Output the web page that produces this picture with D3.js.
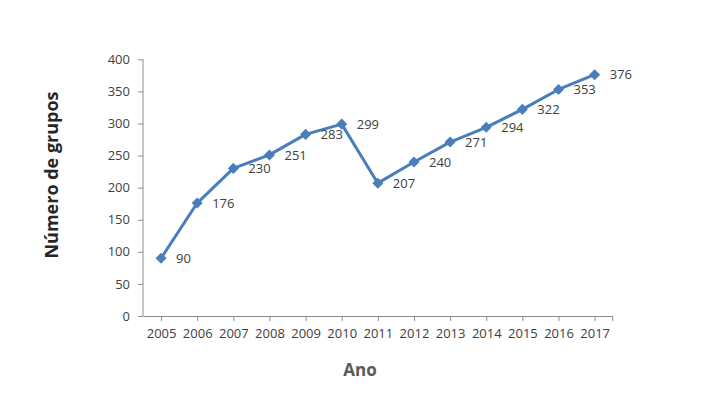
<!DOCTYPE html>
<html>
<head>
<meta charset="utf-8">
<script src="https://cdn.jsdelivr.net/npm/d3@7"></script>
<style>
  body { margin: 0; background: #fff; }
  text { font-family: "Open Sans", sans-serif; }
</style>
</head>
<body>
<div id="chart"></div>
<script>
const years = ['2005', '2006', '2007', '2008', '2009', '2010', '2011', '2012', '2013', '2014', '2015', '2016', '2017'];
const groups = [90, 176, 230, 251, 283, 299, 207, 240, 271, 294, 322, 353, 376];
const yTicks = [0, 50, 100, 150, 200, 250, 300, 350, 400];

const width = 701;
const height = 394;
const plot = { left: 143, right: 612.7, top: 59.3, bottom: 316 };

const svg = d3
  .select('#chart')
  .append('svg')
  .attr('width', width)
  .attr('height', height);

const xScale = d3
  .scalePoint()
  .domain(years)
  .range([plot.left, plot.right])
  .padding(0.5);

const yScale = d3
  .scaleLinear()
  .domain([0, 400])
  .range([plot.bottom, plot.top]);

const axisColor = '#8c8c8c';
const textColor = '#404040';

// y axis
const yAxis = svg
  .append('g')
  .attr('transform', `translate(${plot.left}, 0)`)
  .call(d3.axisLeft(yScale).tickValues(yTicks).tickSize(5).tickPadding(8));

// x axis
const xAxis = svg
  .append('g')
  .attr('transform', `translate(0, ${plot.bottom})`)
  .call(d3.axisBottom(xScale).tickSize(5).tickPadding(8).tickSizeOuter(0));

// tick at right end of x axis
xAxis
  .append('line')
  .attr('x1', plot.right)
  .attr('x2', plot.right)
  .attr('y1', 0)
  .attr('y2', 5)
  .attr('stroke', axisColor);

[yAxis, xAxis].forEach(ax => {
  ax.select('.domain').attr('stroke', axisColor);
  ax.selectAll('.tick line').attr('stroke', axisColor);
  ax.selectAll('.tick text')
    .attr('fill', textColor)
    .style('font-size', '13px')
    .style('font-family', '"Open Sans", sans-serif');
});
yAxis.select('.domain').attr('d', `M0,${plot.top}V${plot.bottom}`);

// line
const line = d3
  .line()
  .x((d, i) => xScale(years[i]))
  .y(d => yScale(d));

svg
  .append('path')
  .datum(groups)
  .attr('fill', 'none')
  .attr('stroke', '#4a7ebb')
  .attr('stroke-width', 3)
  .attr('stroke-linejoin', 'round')
  .attr('d', line);

// diamond markers
svg
  .selectAll('.marker')
  .data(groups)
  .enter()
  .append('path')
  .attr('class', 'marker')
  .attr('d', d3.symbol().type(d3.symbolDiamond2).size(78))
  .attr('transform', (d, i) => `translate(${xScale(years[i])}, ${yScale(d)})`)
  .attr('fill', '#4a7ebb');

// data labels
svg
  .selectAll('.label')
  .data(groups)
  .enter()
  .append('text')
  .attr('class', 'label')
  .attr('x', (d, i) => xScale(years[i]) + 15)
  .attr('y', d => yScale(d))
  .attr('dy', '0.36em')
  .attr('fill', textColor)
  .style('font-size', '13px')
  .text(d => d);

// axis titles
svg
  .append('text')
  .attr('x', 360)
  .attr('y', 370)
  .attr('dy', '0.35em')
  .attr('text-anchor', 'middle')
  .attr('fill', '#595959')
  .style('font-size', '17px')
  .style('font-weight', 'bold')
  .text('Ano');

svg
  .append('text')
  .attr('transform', 'translate(52, 175) rotate(-90)')
  .attr('dy', '0.35em')
  .attr('text-anchor', 'middle')
  .attr('fill', '#262626')
  .style('font-size', '18px')
  .style('font-weight', 'bold')
  .text('Número de grupos');
</script>
</body>
</html>
